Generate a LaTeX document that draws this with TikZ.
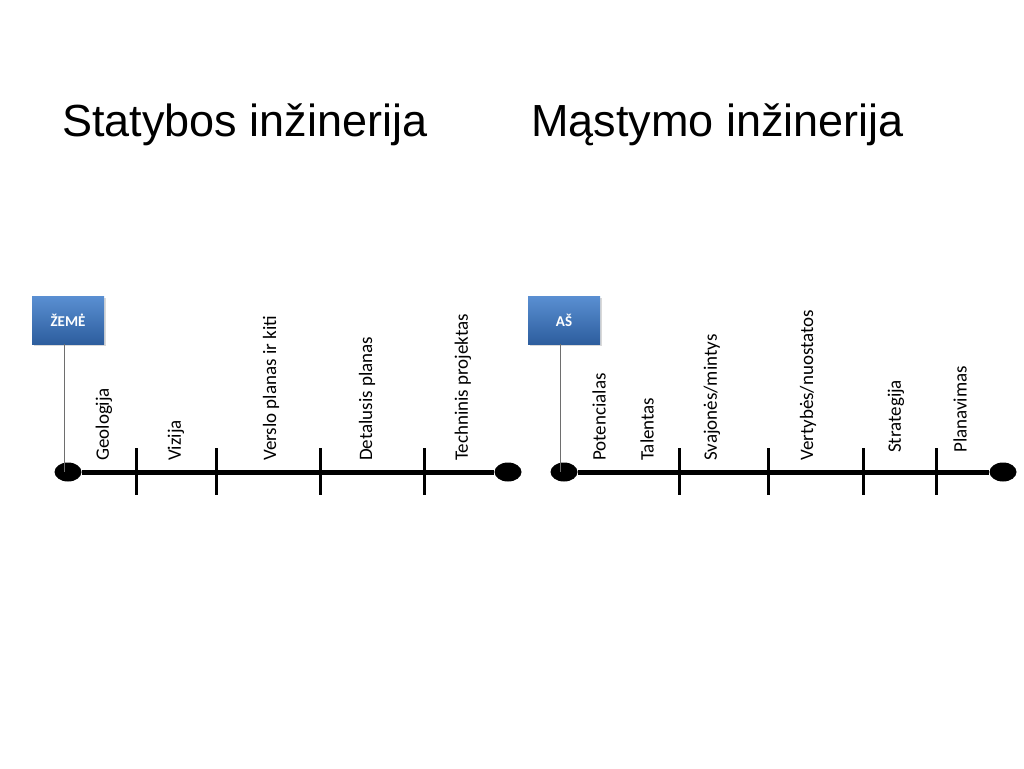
\documentclass[tikz,border=0pt]{standalone}
\usepackage{fontspec}
\setmainfont{Carlito}
\newfontfamily\titlefont{Liberation Sans}
\usetikzlibrary{shadows,shapes.geometric}

\definecolor{boxtop}{HTML}{5A8FD2}
\definecolor{boxbottom}{HTML}{2D5E9E}
\definecolor{stemgray}{HTML}{6E6E6E}

\tikzset{
	title/.style={anchor=base west, inner sep=0pt, font=\titlefont\fontsize{45}{50}\selectfont},
	startbox/.style={minimum width=72pt, minimum height=48pt, inner sep=0pt, top color=boxtop, bottom color=boxbottom, drop shadow={opacity=0.3, shadow xshift=1.5pt, shadow yshift=-2pt}, text=white, font=\bfseries\fontsize{15}{17}\selectfont},
	endpoint/.style={ellipse, fill=black, minimum width=27pt, minimum height=19pt, inner sep=0pt},
	stagelabel/.style={rotate=90, anchor=west, inner sep=0pt, font=\fontsize{19}{22}\selectfont},
	axis/.style={line width=5pt},
	tick/.style={line width=3pt},
	stem/.style={draw=stemgray, line width=0.8pt}
}

\begin{document}
\begin{tikzpicture}[x=1pt, y=-1pt]
	\useasboundingbox (0,0) rectangle (1024,768);
	
	\node[title] (titleA) at (62,136) {Statybos inžinerija};
	\node[title] (titleB) at (531,136) {Mąstymo inžinerija};
	
	% statybos
	\node[startbox] (zeme) at (68,320) {ŽEMĖ};
	\node[endpoint] (startA) at (68,472) {};
	\node[endpoint] (endA) at (508,472) {};
	\draw[axis] (startA) -- (endA);
	\draw[stem] (zeme.south -| 64,0) -- (64,472);
	\foreach \x in {136,216,320,424}
		\draw[tick] (\x,448) -- (\x,495);
	\node[stagelabel] (geologija) at (104,461) {Geologija};
	\node[stagelabel] (vizija) at (176,461) {Vizija};
	\node[stagelabel] (verslo) at (271,461) {Verslo planas ir kiti};
	\node[stagelabel] (detalusis) at (367,461) {Detalusis planas};
	\node[stagelabel] (techninis) at (463,461) {Techninis projektas};
	
	% mastymo
	\node[startbox] (as) at (564,320) {AŠ};
	\node[endpoint] (startB) at (564,472) {};
	\node[endpoint] (endB) at (1003,472) {};
	\draw[axis] (startB) -- (endB);
	\draw[stem] (as.south -| 560,0) -- (560,472);
	\foreach \x in {679,768,863,936}
		\draw[tick] (\x,448) -- (\x,495);
	\node[stagelabel] (potencialas) at (599,461) {Potencialas};
	\node[stagelabel] (talentas) at (647,461) {Talentas};
	\node[stagelabel] (svajones) at (712,461) {Svajonės/mintys};
	\node[stagelabel] (vertybes) at (808,461) {Vertybės/nuostatos};
	\node[stagelabel] (strategija) at (896,453) {Strategija};
	\node[stagelabel] (planavimas) at (960,453) {Planavimas};
\end{tikzpicture}
\end{document}
